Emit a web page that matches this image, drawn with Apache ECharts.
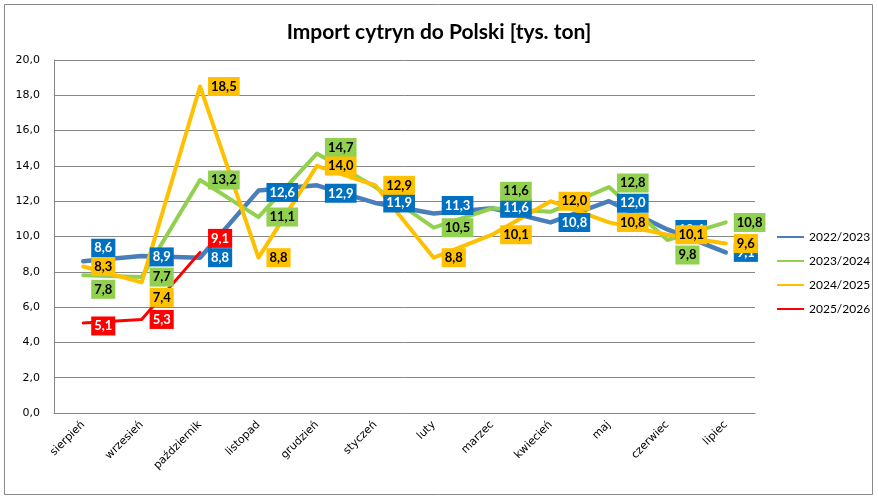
<!DOCTYPE html>
<html>
<head>
<meta charset="utf-8">
<script src="https://cdn.jsdelivr.net/npm/echarts@6/dist/echarts.min.js"></script>
<style>
html, body { margin: 0; padding: 0; background: #fff; }
#container { width: 878px; height: 500px; }
</style>
</head>
<body>
<div id="container"></div>
<script>
var months = ['sierpień', 'wrzesień', 'październik', 'listopad', 'grudzień', 'styczeń',
  'luty', 'marzec', 'kwiecień', 'maj', 'czerwiec', 'lipiec'];
var seasons = ['2022/2023', '2023/2024', '2024/2025', '2025/2026'];

var s2022 = [8.6, 8.9, 8.8, 12.6, 12.9, 11.9, 11.3, 11.6, 10.8, 12.0, 10.4, 9.1];
var s2023 = [7.8, 7.7, 13.2, 11.1, 14.7, 12.8, 10.5, 11.6, 11.4, 12.8, 9.8, 10.8];
var s2024 = [8.3, 7.4, 18.5, 8.8, 14.0, 12.9, 8.8, 10.1, 12.0, 10.8, 10.1, 9.6];
var s2025 = [5.1, 5.3, 9.1];

// vertical nudges of the data labels (px), styling only
var shift2022 = [-13, 1, 0, 2, 8, 0, -8, 0, 0, 2, 0, 0];
var shift2023 = [14, 0, 0, 0, -6, 0, 0, -17, 0, -4, 15, 0];
var shift2024 = [0, 15, 0, 0, 0, 0, 0, 0, 0, 0, 0, 0];
var shift2025 = [3, 0, -14];
// labels that are covered in the original
var hidden2023 = [5, 8];

var lineColors = ['#4a7ebb', '#92d050', '#ffc000', '#ff0000'];
var boxColors = ['#0070c0', '#92d050', '#ffc000', '#ff0000'];
var textColors = ['#ffffff', '#000000', '#000000', '#ffffff'];
var widths = [4.5, 4, 4, 3];

var dom = document.getElementById('container');
var myChart = echarts.init(dom);

function fmt(v) {
  return v.toFixed(1).replace('.', ',');
}

function makeSeries(idx, values, shifts, hidden) {
  hidden = hidden || [];
  return {
    name: seasons[idx],
    type: 'line',
    data: values.map(function (v, i) {
      return { value: v, label: { offset: [0, shifts[i]], show: hidden.indexOf(i) < 0 } };
    }),
    symbol: 'circle',
    symbolSize: 2,
    showSymbol: true,
    lineStyle: { color: lineColors[idx], width: widths[idx], cap: 'round', join: 'round' },
    itemStyle: { color: lineColors[idx] },
    emphasis: { disabled: true },
    label: {
      show: true,
      position: 'right',
      distance: 7,
      formatter: function (p) { return fmt(p.value); },
      backgroundColor: boxColors[idx],
      color: textColors[idx],
      fontFamily: 'Lato',
      fontWeight: 'bold',
      fontSize: 13,
      lineHeight: 15,
      padding: [2, 3]
    },
    z: 2
  };
}

myChart.setOption({
  animation: false,
  title: {
    text: 'Import cytryn do Polski [tys. ton]',
    left: 'center',
    top: 17,
    textStyle: { fontFamily: 'Lato', fontWeight: 'bold', fontSize: 21, color: '#000' }
  },
  graphic: [{
    type: 'rect',
    shape: { x: 4.5, y: 4.5, width: 868, height: 490 },
    style: { fill: 'none', stroke: '#888', lineWidth: 1 },
    silent: true
  }],
  legend: {
    orient: 'vertical',
    left: 772,
    top: 226,
    itemWidth: 27,
    itemHeight: 12,
    itemGap: 12,
    icon: 'path://M0,5 L27,5 L27,7 L0,7 Z',
    textStyle: { fontFamily: 'Lato', fontSize: 12, color: '#000' },
    data: seasons
  },
  grid: { left: 54, top: 60, width: 701, height: 353, containLabel: false },
  xAxis: {
    type: 'category',
    data: months,
    boundaryGap: true,
    axisLine: { lineStyle: { color: '#868686' } },
    axisTick: { show: false },
    axisLabel: { rotate: 45, margin: 10, fontFamily: 'DejaVu Sans', fontSize: 11, color: '#000', interval: 0 }
  },
  yAxis: {
    type: 'value',
    min: 0,
    max: 20,
    interval: 2,
    axisLine: { show: true, lineStyle: { color: '#868686' } },
    axisTick: { show: false },
    splitLine: { lineStyle: { color: '#868686', width: 1 } },
    axisLabel: { margin: 14, fontFamily: 'DejaVu Sans', fontSize: 11, color: '#000', formatter: fmt }
  },
  series: [
    makeSeries(0, s2022, shift2022),
    makeSeries(1, s2023, shift2023, hidden2023),
    makeSeries(2, s2024, shift2024),
    makeSeries(3, s2025, shift2025)
  ]
});
</script>
</body>
</html>
